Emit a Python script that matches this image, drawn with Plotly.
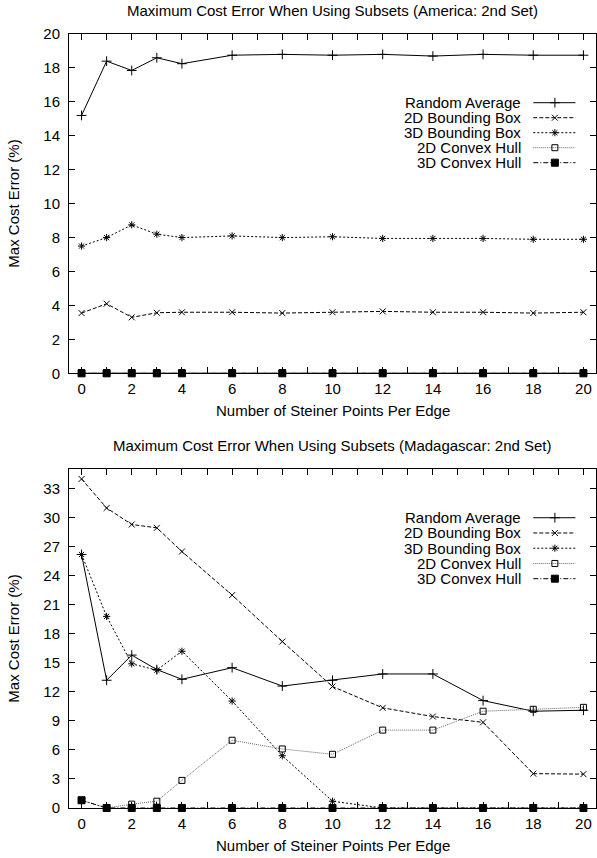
import plotly.graph_objects as go

# ---------------- data ----------------
steiner_points = [0, 1, 2, 3, 4, 6, 8, 10, 12, 14, 16, 18, 20]
series_names = ["Random Average", "2D Bounding Box", "3D Bounding Box",
                "2D Convex Hull", "3D Convex Hull"]

# America: 2nd set
am_random = [15.2, 18.4, 17.85, 18.6, 18.25, 18.75, 18.8, 18.75, 18.8, 18.7, 18.8, 18.75, 18.75]
am_bb2d = [3.55, 4.1, 3.3, 3.57, 3.6, 3.6, 3.55, 3.6, 3.65, 3.6, 3.6, 3.55, 3.6]
am_bb3d = [7.5, 8.0, 8.75, 8.2, 8.0, 8.1, 8.0, 8.05, 7.95, 7.95, 7.95, 7.9, 7.9]
am_ch2d = [0.05, 0.05, 0.05, 0.05, 0.05, 0.05, 0.05, 0.05, 0.05, 0.05, 0.05, 0.05, 0.05]
am_ch3d = [0, 0, 0, 0, 0, 0, 0, 0, 0, 0, 0, 0, 0]

# Madagascar: 2nd set
md_random = [26.2, 13.2, 15.8, 14.3, 13.3, 14.5, 12.6, 13.2, 13.85, 13.85, 11.1, 10.0, 10.1]
md_bb2d = [34.0, 31.0, 29.3, 28.95, 26.5, 22.0, 17.2, 12.55, 10.35, 9.45, 8.85, 3.55, 3.5]
md_bb3d = [26.2, 19.8, 14.9, 14.25, 16.2, 11.05, 5.4, 0.7, 0, 0, 0, 0, 0]
md_ch2d = [0.8, 0.0, 0.4, 0.7, 2.85, 7.0, 6.1, 5.55, 8.05, 8.05, 10.0, 10.2, 10.4]
md_ch3d = [0.8, 0, 0, 0, 0, 0, 0, 0, 0, 0, 0, 0, 0]

x_tick_vals = [0, 2, 4, 6, 8, 10, 12, 14, 16, 18, 20]
am_y_ticks = [0, 2, 4, 6, 8, 10, 12, 14, 16, 18, 20]
md_y_ticks = [0, 3, 6, 9, 12, 15, 18, 21, 24, 27, 30, 33]

titles = ["Maximum Cost Error When Using Subsets (America: 2nd Set)",
          "Maximum Cost Error When Using Subsets (Madagascar: 2nd Set)"]
x_title = "Number of Steiner Points Per Edge"
y_title = "Max Cost Error (%)"

# ---------------- styles ----------------
FONT = "Liberation Sans, Arial, Helvetica, sans-serif"
FS = 15
styles = [
    dict(dash="solid", color="black", symbol="cross-thin", size=7, lw=1.0),
    dict(dash="4px,2px", color="black", symbol="x-thin", size=6, lw=1.0),
    dict(dash="2px,2px", color="black", symbol="asterisk", size=6, lw=1.0),
    dict(dash="1px,1px", color="#666666", symbol="square-open", size=6, lw=1.0),
    dict(dash="5px,2px,1px,2px", color="black", symbol="square", size=7, lw=1.0),
]

fig = go.Figure()

panels = [
    ("x", "y", [am_random, am_bb2d, am_bb3d, am_ch2d, am_ch3d]),
    ("x2", "y2", [md_random, md_bb2d, md_bb3d, md_ch2d, md_ch3d]),
]

for xa, ya, series in panels:
    for name, vals, st in zip(series_names, series, styles):
        fig.add_trace(go.Scatter(
            x=steiner_points, y=vals, name=name, xaxis=xa, yaxis=ya,
            mode="lines+markers", showlegend=False, cliponaxis=False,
            line=dict(color=st["color"], width=st["lw"], dash=st["dash"]),
            marker=dict(symbol=st["symbol"], size=st["size"], color="black",
                        line=dict(width=1, color="black")),
        ))

# ---------------- custom gnuplot-style keys ----------------
key_x_text = 0.861
key_x0, key_xm, key_x1 = 0.881, 0.922, 0.961
key_rows = {"x3": (0.7975, 0.0442), "x4": (0.857, 0.045)}
annotations = []
for kx, ky in [("x3", "y3"), ("x4", "y4")]:
    r0, dr = key_rows[kx]
    for i, (name, st) in enumerate(zip(series_names, styles)):
        yy = r0 - i * dr
        fig.add_trace(go.Scatter(
            x=[key_x0, key_x1], y=[yy, yy], xaxis=kx, yaxis=ky, mode="lines",
            showlegend=False, hoverinfo="skip",
            line=dict(color=st["color"], width=st["lw"], dash=st["dash"]),
        ))
        fig.add_trace(go.Scatter(
            x=[key_xm], y=[yy], xaxis=kx, yaxis=ky, mode="markers",
            showlegend=False, hoverinfo="skip",
            marker=dict(symbol=st["symbol"], size=st["size"], color="black",
                        line=dict(width=1, color="black")),
        ))
        annotations.append(dict(
            x=key_x_text, y=yy, xref=kx, yref=ky, text=name, showarrow=False,
            xanchor="right", yanchor="middle",
            font=dict(family=FONT, size=FS, color="black"),
        ))

# titles and axis titles
for xd, yd, t in [("x domain", "y domain", titles[0]), ("x2 domain", "y2 domain", titles[1])]:
    annotations.append(dict(x=0.5, y=1, xref=xd, yref=yd, text=t, showarrow=False,
                            xanchor="center", yanchor="middle", yshift=23.5,
                            font=dict(family=FONT, size=FS, color="black")))
    annotations.append(dict(x=0.5, y=0, xref=xd, yref=yd, text=x_title, showarrow=False,
                            xanchor="center", yanchor="middle", yshift=-37,
                            font=dict(family=FONT, size=FS, color="black")))
    annotations.append(dict(x=0, y=0.5, xref=xd, yref=yd, text=y_title, showarrow=False,
                            xanchor="center", yanchor="middle", xshift=-55, textangle=-90,
                            font=dict(family=FONT, size=FS, color="black")))

common_x = dict(range=[-0.5, 20.5], tickvals=x_tick_vals, ticks="inside", ticklen=6,
                tickcolor="black", tickwidth=1, showline=True, linecolor="black",
                linewidth=1, mirror="allticks", showgrid=False, zeroline=False,
                ticklabelstandoff=2,
                minor=dict(ticks="inside", ticklen=6, dtick=1, tick0=0, tickcolor="black", showgrid=False),
                tickfont=dict(family=FONT, size=FS, color="black"))
common_y = dict(ticks="inside", ticklen=6, tickcolor="black", tickwidth=1,
                showline=True, linecolor="black", linewidth=1, mirror="allticks",
                showgrid=False, zeroline=False, ticklabelstandoff=5,
                tickfont=dict(family=FONT, size=FS, color="black"))

top_dom = [0.5616, 1.0]
bot_dom = [0.0, 0.4376]
hidden = dict(range=[0, 1], visible=False, showgrid=False, zeroline=False)

fig.update_layout(
    width=597, height=858,
    margin=dict(l=69, r=1, t=34, b=50),
    paper_bgcolor="white", plot_bgcolor="white",
    showlegend=False,
    xaxis=dict(domain=[0, 1], anchor="y", **common_x),
    yaxis=dict(domain=top_dom, anchor="x", range=[0, 20], tickvals=am_y_ticks, **common_y),
    xaxis2=dict(domain=[0, 1], anchor="y2", **common_x),
    yaxis2=dict(domain=bot_dom, anchor="x2", range=[0, 35], tickvals=md_y_ticks, **common_y),
    xaxis3=dict(domain=[0, 1], anchor="y3", overlaying="x", **hidden),
    yaxis3=dict(domain=top_dom, anchor="x3", overlaying="y", **hidden),
    xaxis4=dict(domain=[0, 1], anchor="y4", overlaying="x2", **hidden),
    yaxis4=dict(domain=bot_dom, anchor="x4", overlaying="y2", **hidden),
    annotations=annotations,
)

fig.write_html(
    "out.html",
    config={"displayModeBar": False},
    post_script="document.body.style.margin='0';document.body.style.padding='0';"
                "document.body.style.overflow='hidden';"
                "document.documentElement.style.overflow='hidden';",
)
